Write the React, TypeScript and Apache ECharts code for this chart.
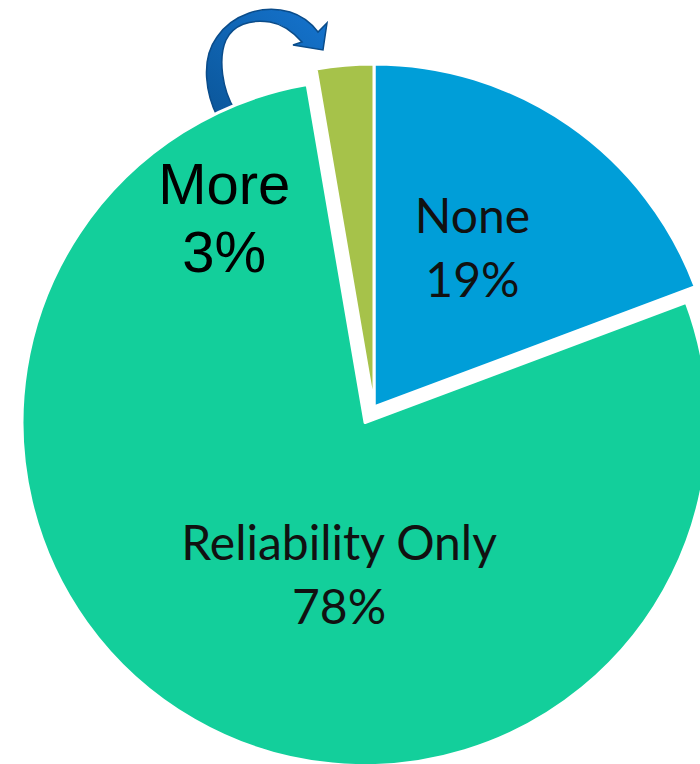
import React, { useEffect, useRef } from "react";
import * as echarts from "echarts";

const categories = ["None", "Reliability Only", "More"];
const values = [19.3, 78.0, 2.7];
const colors = ["#009ed8", "#13cf9b", "#a6c24a"];
const exploded = [false, true, false];

const ARROW_D =
  "M218,118 C206,95 200,60 217,37 C232,15 262,4 290,12 C303,16 312,24 318,32 L327,23 L323,50 L293,45 L302,42 C293,32 283,24 270,22 C250,19 233,25 226,40 C218,58 222,90 235,110 Z";

let registered = false;

export default function App() {
  const ref = useRef<HTMLDivElement>(null);
  useEffect(() => {
    document.body.style.margin = "0";
    if (!registered) {
      echarts.graphic.registerShape("curvedArrow", echarts.graphic.extendPath(ARROW_D, {}) as any);
      registered = true;
    }
    const chart = echarts.init(ref.current!, null, { renderer: "svg" });
    const labelShift = [
      { dx: -1, dy: -17 },
      { dx: 61, dy: 0 },
      { dx: -135, dy: -16 },
    ];
    chart.setOption({
      animation: false,
      graphic: [
        {
          type: "curvedArrow",
          x: 0,
          y: 0,
          scaleX: 1,
          scaleY: 1,
          style: {
            fill: new echarts.graphic.LinearGradient(0, 1, 1, 0, [
              { offset: 0, color: "#0b5699" },
              { offset: 1, color: "#1574cf" },
            ]),
            stroke: "#0a4c8a",
            lineWidth: 1.5,
          },
          silent: true,
        },
      ],
      series: [
        {
          type: "pie",
          center: [374, 407],
          radius: [0, 343],
          startAngle: 90,
          clockwise: true,
          selectedMode: "multiple",
          selectedOffset: 18,
          silent: true,
          emphasis: { disabled: true },
          itemStyle: { borderColor: "#ffffff", borderWidth: 3 },
          label: {
            show: true,
            position: "inside",
            formatter: (p: any) => `${p.name}\n${Math.round(p.value)}%`,
            color: "#111111",
            fontFamily: "Lato",
            fontSize: 48,
            lineHeight: 64,
          },
          labelLine: { show: false },
          labelLayout: (p: any) => labelShift[p.dataIndex],
          data: categories.map((name, i) => ({
            name,
            value: values[i],
            selected: exploded[i],
            itemStyle: { color: colors[i] },
            label:
              i === 2
                ? {
                    fontFamily: "Liberation Sans",
                    fontSize: 58,
                    lineHeight: 68,
                    color: "#000000",
                  }
                : undefined,
          })),
        },
      ],
    });
    return () => chart.dispose();
  }, []);
  return <div ref={ref} style={{ width: 700, height: 764, position: "absolute", left: 0, top: 0 }} />;
}
